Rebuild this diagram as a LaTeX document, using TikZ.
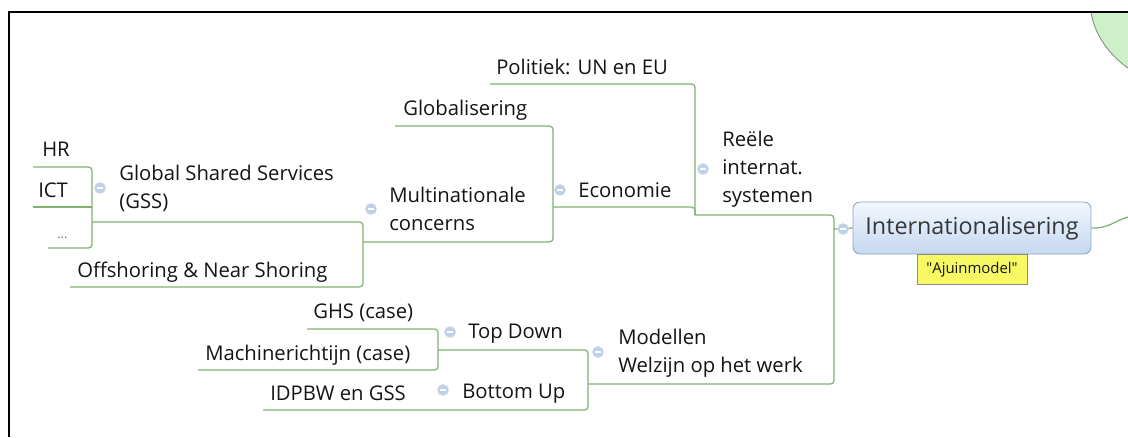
\documentclass[tikz,border=0pt]{standalone}
\usepackage{fontspec}
\setmainfont{Open Sans}
\definecolor{linegreen}{RGB}{128,178,112}
\definecolor{ink}{RGB}{20,20,20}
\definecolor{foldblue}{RGB}{190,208,234}
\definecolor{boxtop}{RGB}{242,247,253}
\definecolor{boxbottom}{RGB}{196,216,240}
\definecolor{boxedge}{RGB}{140,165,190}
\definecolor{notefill}{RGB}{248,248,100}
\definecolor{bubble}{RGB}{206,240,200}
\usetikzlibrary{positioning}

\begin{document}
\begin{tikzpicture}[x=0.025cm, y=-0.025cm,
	topic/.style={anchor=base west, inner sep=0pt, text=ink, align=left,
		font=\fontsize{14.4}{19.6}\selectfont},
	branch/.style={draw=linegreen, line width=0.9pt, rounded corners=2.5pt},
	fold/.style={circle, inner sep=0pt, minimum size=8pt, fill=foldblue,
		draw=foldblue!80!black!40, line width=0.3pt,
		path picture={\draw[white, line width=0.8pt]
			([xshift=-1.8pt]path picture bounding box.center) --
			([xshift=1.8pt]path picture bounding box.center);}},
	central/.style={rounded corners=5pt, draw=boxedge, line width=0.6pt,
		top color=boxtop, bottom color=boxbottom, text=ink!85,
		minimum width=5.95cm, minimum height=1.3cm, inner sep=0pt,
		font=\fontsize{16.6}{20}\selectfont},
	note/.style={draw=black!45, line width=0.4pt, fill=notefill, text=ink,
		minimum width=2.75cm, minimum height=0.75cm, inner sep=0pt,
		font=\fontsize{10.6}{12}\selectfont}]

	\useasboundingbox (0,0) rectangle (1128,437);

	% centre bubble, cut off by the window
	\begin{scope}
		\clip (9,12) rectangle (1128,437);
		\filldraw[fill=bubble, draw=black!40!bubble, line width=0.6pt] (1200,0) ellipse (2.75cm and 2.25cm);
	\end{scope}
	\draw[line width=1.4pt] (9,437) -- (9,12) -- (1128,12);

	\node[central] (intl) at (972,228) {Internationalisering};
	\node[note, below=0pt of intl] (ajuin) {\textquotedbl Ajuinmodel\textquotedbl};
	\coordinate (edge) at (1128,217);
	\draw[branch] (intl.east) .. controls (1108,229) and (1116,220) .. (edge);

	% branch points
	\coordinate (hub) at (834,229);
	\coordinate (sys) at (695,215);
	\coordinate (mod) at (588,384);
	\coordinate (pol) at (490,84);
	\coordinate (eco) at (553,207);
	\coordinate (glob) at (395,126);
	\coordinate (mnc) at (363,242);
	\coordinate (gss) at (92,222);
	\coordinate (off) at (70,287);
	\coordinate (hr) at (33,167);
	\coordinate (ict) at (33,207);
	\coordinate (dots) at (48,248);
	\coordinate (td) at (438,350);
	\coordinate (ghs) at (307,329);
	\coordinate (mach) at (198,370);
	\coordinate (idp) at (263,410);

	\draw[branch] (sys) -- (sys -| hub) -- (mod -| hub) -- (mod);
	\draw[branch] (hub) -- (intl.west);
	\draw[branch] (pol) -- (pol -| sys) -- (sys);
	\draw[branch] (eco) -- (eco -| sys) -- (sys);
	\draw[branch] (glob) -- (glob -| eco) -- (mnc -| eco) -- (mnc);
	\draw[branch] (gss) -- (gss -| mnc) -- (off -| mnc) -- (off);
	\draw[branch] (hr) -- (hr -| gss) -- (dots -| gss) -- (dots);
	\draw[branch] (ict) -- (ict -| gss);
	\draw[branch] (ghs) -- (ghs -| td) -- (mach -| td) -- (mach);
	\draw[branch] (td) -- (td -| mod) -- (idp -| mod) -- (idp);

	% topics
	\node[topic] (politiek) at (496,74) {Politiek: UN en EU};
	\node[topic] (reele) at (722,202) {Reële\\internat.\\systemen};
	\node[topic] (economie) at (578,197) {Economie};
	\node[topic] (globalisering) at (403,115) {Globalisering};
	\node[topic] (multi) at (389,230) {Multinationale\\concerns};
	\node[topic] (gssnode) at (119,208) {Global Shared Services\\(GSS)};
	\node[topic] (hrnode) at (42,156) {HR};
	\node[topic] (ictnode) at (38,197) {ICT};
	\node[topic, text=black!60, font=\fontsize{9}{10}\selectfont] (dotsnode) at (57,238) {...};
	\node[topic] (offshoring) at (77,277) {Offshoring \& Near Shoring};
	\node[topic] (modellen) at (618,372) {Modellen\\Welzijn op het werk};
	\node[topic] (topdown) at (468,338) {Top Down};
	\node[topic] (bottomup) at (462,398) {Bottom Up};
	\node[topic] (ghsnode) at (313,318) {GHS (case)};
	\node[topic] (machine) at (205,360) {Machinerichtijn (case)};
	\node[topic] (idpbw) at (270,400) {IDPBW en GSS};

	% collapse buttons
	\node[fold] (f-intl) at (843,229) {};
	\node[fold] (f-reele) at (703,169) {};
	\node[fold] (f-eco) at (560,190) {};
	\node[fold] (f-multi) at (371,209) {};
	\node[fold] (f-gss) at (100,188) {};
	\node[fold] (f-mod) at (598,352) {};
	\node[fold] (f-td) at (450,332) {};
	\node[fold] (f-bu) at (443,390) {};

\end{tikzpicture}
\end{document}
